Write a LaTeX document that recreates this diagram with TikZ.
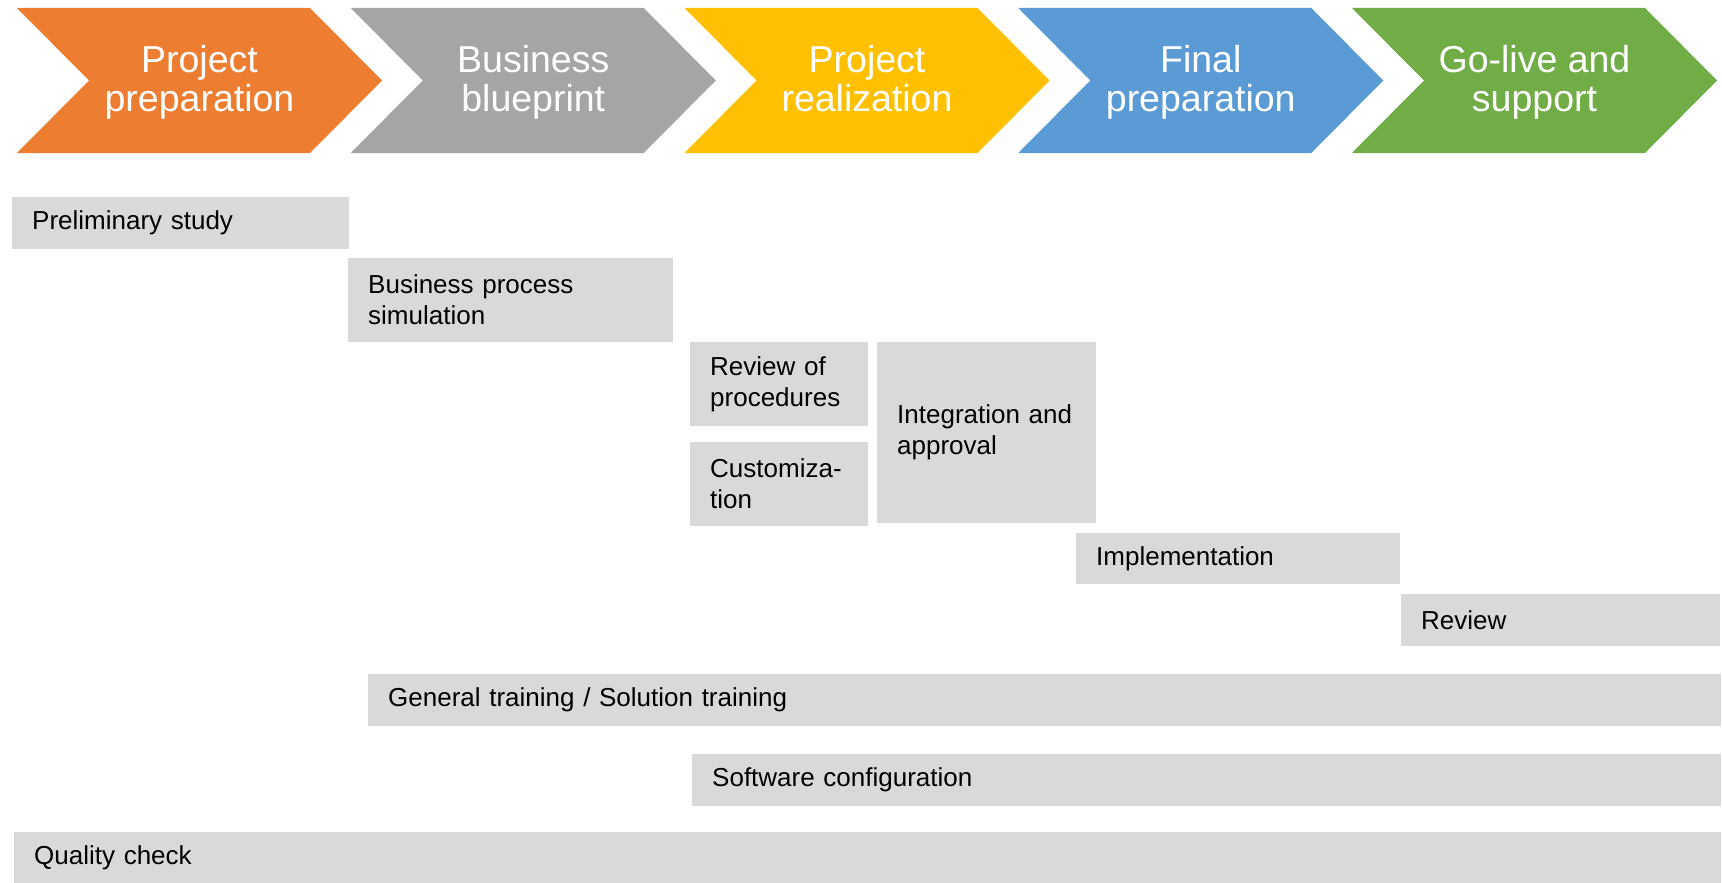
\documentclass[tikz,border=0pt]{standalone}
\usepackage{fontspec}
\setmainfont{Liberation Sans}
\definecolor{prepare}{HTML}{ED7D31}
\definecolor{blueprint}{HTML}{A5A5A5}
\definecolor{realize}{HTML}{FFC000}
\definecolor{final}{HTML}{5B9BD5}
\definecolor{golive}{HTML}{70AD47}
\definecolor{taskgray}{HTML}{D9D9D9}
\tikzset
{
  phase text/.style={text=white,align=center,inner sep=0pt,font=\fontsize{37.5}{39}\selectfont},
  task/.style={fill=taskgray,anchor=north west,align=left,inner xsep=20pt,inner ysep=0pt,
    font=\fontsize{26}{31}\selectfont}
}

\begin{document}
\begin{tikzpicture}[x=1pt,y=-1pt]
  \useasboundingbox (0,0) rectangle (1722,883);
  % phases
  \foreach \i/\col/\name in {0/prepare/{Project\\preparation},1/blueprint/{Business\\blueprint},
      2/realize/{Project\\realization},3/final/{Final\\preparation},4/golive/{Go-live and\\support}}
  {
    \pgfmathsetmacro\x{17+333.75*\i}
    \fill[\col] (\x,8) -- ++(293,0) -- ++(72,72.5) -- ++(-72,72.5) -- ++(-293,0) -- ++(72,-72.5) -- cycle;
    \node[phase text] (ph\i) at (\x+182.5,84) {\strut\name\strut};
  }
  % tasks
  \node[task,text width=297pt,minimum height=52pt] (prelim) at (12,197) {Preliminary study};
  \node[task,text width=285pt,minimum height=84pt] (bpsim) at (348,258) {Business process\\simulation};
  \node[task,text width=138pt,minimum height=84pt] (review proc) at (690,342) {Review of\\procedures};
  \node[task,text width=138pt,minimum height=84pt] (custom) at (690,442) {Customiza-\\tion};
  \node[task,text width=179pt,minimum height=181pt] (integ) at (877,342) {Integration and\\approval};
  \node[task,text width=284pt,minimum height=51pt] (impl) at (1076,533) {Implementation};
  \node[task,text width=279pt,minimum height=52pt] (review) at (1401,594) {Review};
  \node[task,text width=1313pt,minimum height=52pt] (training) at (368,674) {General training / Solution training};
  \node[task,text width=989pt,minimum height=52pt] (software) at (692,754) {Software configuration};
  \node[task,text width=1667pt,minimum height=51pt] (quality) at (14,832) {Quality check};
\end{tikzpicture}
\end{document}
